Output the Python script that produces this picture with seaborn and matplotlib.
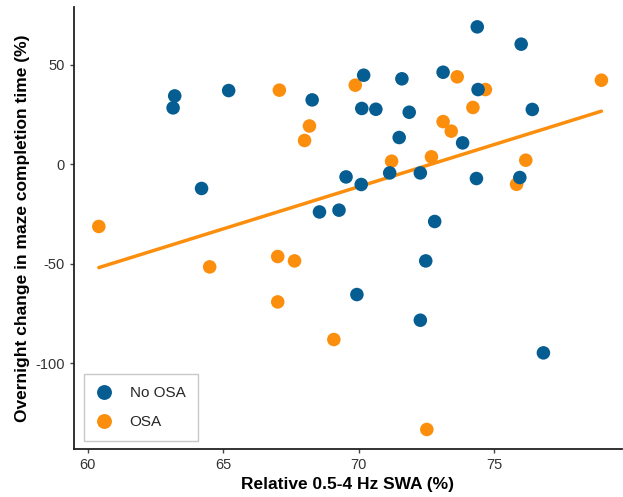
import pandas as pd
import numpy as np
import matplotlib
matplotlib.use('Agg')
import matplotlib.pyplot as plt
import seaborn as sns

# No OSA group
no_osa_swa = [63.21, 63.15, 65.2, 68.28, 70.18, 70.11, 64.2, 69.53, 70.09, 68.55,
              69.27, 74.37, 75.99, 71.59, 73.11, 74.40, 70.63, 71.86, 76.40, 71.49,
              73.83, 71.14, 72.27, 74.34, 75.94, 72.80, 72.47, 69.93, 72.27, 76.81]
no_osa_change = [34.3, 28.3, 37.0, 32.3, 44.7, 28.0, -12.2, -6.4, -10.2, -24.0,
                 -23.1, 69.0, 60.3, 42.9, 46.2, 37.5, 27.6, 26.1, 27.5, 13.4,
                 10.7, -4.4, -4.4, -7.2, -6.7, -28.8, -48.6, -65.5, -78.4, -94.8]

# OSA group
osa_swa = [60.41, 67.07, 68.18, 68.0, 69.87, 73.63, 74.67, 78.95, 74.21, 73.11,
           73.41, 71.21, 72.68, 76.16, 75.82, 64.50, 67.01, 67.63, 67.01, 69.08, 72.51]
osa_change = [-31.3, 37.2, 19.2, 11.9, 39.7, 43.9, 37.5, 42.2, 28.5, 21.4,
              16.6, 1.5, 3.7, 2.0, -10.1, -51.6, -46.4, -48.6, -69.2, -88.1, -133.3]

groups = ['No OSA', 'OSA']
colors = {'No OSA': '#065d91', 'OSA': '#fb8e0c'}

osa_df = pd.DataFrame({'swa': osa_swa, 'change': osa_change, 'group': 'OSA'})
no_df = pd.DataFrame({'swa': no_osa_swa, 'change': no_osa_change, 'group': 'No OSA'})
df = pd.concat([osa_df, no_df], ignore_index=True)  # OSA first so blue dots sit on top

sns.set_style('white')
plt.rcParams['font.family'] = ['Liberation Sans', 'DejaVu Sans']
plt.rcParams['axes.unicode_minus'] = False

fig, ax = plt.subplots(figsize=(6.23, 4.97), dpi=100)
fig.subplots_adjust(left=0.119, right=0.998, bottom=0.097, top=0.986)

sns.regplot(data=osa_df, x='swa', y='change', scatter=False, ci=None,
            color=colors['OSA'], line_kws={'lw': 2.5, 'zorder': 1}, ax=ax)
sns.scatterplot(data=df, x='swa', y='change', hue='group', hue_order=groups,
                palette=colors, s=95, linewidth=0, alpha=1, zorder=3, ax=ax)

ax.set_xlim(59.5, 79.7)
ax.set_ylim(-143, 79)
ax.set_xticks([60, 65, 70, 75])
ax.set_yticks([-100, -50, 0, 50])

ax.set_xlabel('Relative 0.5-4 Hz SWA (%)', fontsize=12.5, fontweight='bold', color='black')
ax.set_ylabel('Overnight change in maze completion time (%)', fontsize=12.5,
              fontweight='bold', color='black')

sns.despine(ax=ax)
for side in ['left', 'bottom']:
    ax.spines[side].set_color('#222222')
    ax.spines[side].set_linewidth(1.3)
ax.tick_params(axis='both', which='both', direction='out', length=3, width=1,
               color='#444444', labelsize=10.5, labelcolor='#333333', bottom=True, left=True)

leg = ax.legend(loc='lower left', title=None, fontsize=11, frameon=True,
                borderpad=0.5, handlelength=1.0, handletextpad=1.2, labelspacing=1.0,
                bbox_to_anchor=(0.026, 0.027), borderaxespad=0, markerscale=1.1)
leg.get_frame().set_edgecolor('#bbbbbb')
leg.get_frame().set_linewidth(1)
leg.get_frame().set_boxstyle('square')

plt.savefig('out.png', dpi=100)
